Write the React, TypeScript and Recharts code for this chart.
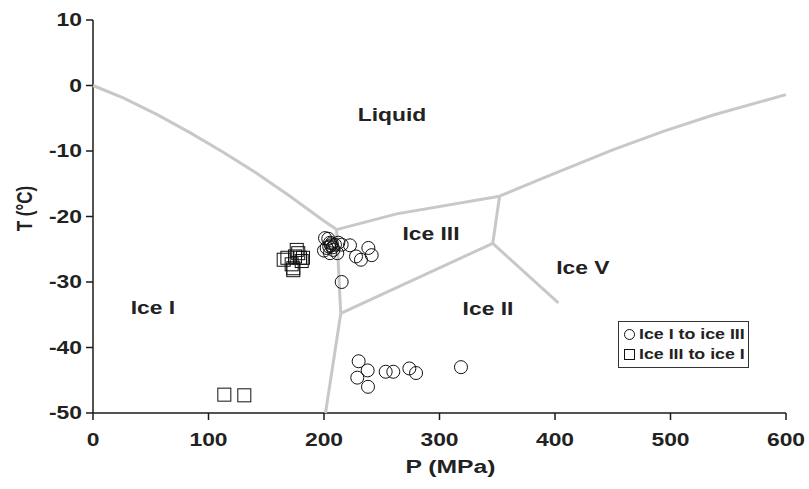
import React from 'react';
import { ScatterChart, Scatter, XAxis, YAxis, Legend } from 'recharts';

const FONT = '"Liberation Sans", Arial, Helvetica, sans-serif';
const STRETCH = 1.27;

const xTicks = [0, 100, 200, 300, 400, 500, 600];
const yTicks = [-50, -40, -30, -20, -10, 0, 10];

// Experimental points: Ice I -> Ice III (circles)
const iceIToIceIII = [
  { x: 200.9, y: -23.3 }, { x: 203.7, y: -23.4 }, { x: 205.2, y: -24.0 }, { x: 206.7, y: -24.1 },
  { x: 209.5, y: -24.3 }, { x: 212.4, y: -24.0 }, { x: 215.3, y: -24.3 }, { x: 202.3, y: -24.8 },
  { x: 200.0, y: -25.2 }, { x: 205.2, y: -25.6 }, { x: 208.1, y: -25.1 }, { x: 211.5, y: -25.6 },
  { x: 206.0, y: -24.4 }, { x: 207.5, y: -24.7 }, { x: 204.5, y: -24.6 },
  { x: 222.5, y: -24.4 }, { x: 227.7, y: -26.1 }, { x: 238.4, y: -24.8 }, { x: 241.3, y: -25.9 },
  { x: 232.0, y: -26.6 }, { x: 215.3, y: -30.0 },
  { x: 230.0, y: -42.1 }, { x: 237.8, y: -43.5 }, { x: 228.8, y: -44.6 }, { x: 238.1, y: -46.0 },
  { x: 253.4, y: -43.7 }, { x: 260.0, y: -43.7 }, { x: 273.9, y: -43.2 }, { x: 279.7, y: -43.9 },
  { x: 318.6, y: -43.0 },
];

// Experimental points: Ice III -> Ice I (squares)
const iceIIIToIceI = [
  { x: 165.1, y: -26.6 }, { x: 168.3, y: -26.3 }, { x: 176.4, y: -25.1 }, { x: 177.7, y: -25.6 },
  { x: 179.2, y: -26.3 }, { x: 172.0, y: -27.3 }, { x: 173.4, y: -27.9 }, { x: 174.9, y: -26.1 },
  { x: 180.7, y: -26.8 }, { x: 181.8, y: -26.3 }, { x: 173.4, y: -28.2 },
  { x: 113.7, y: -47.2 }, { x: 131.0, y: -47.3 },
];

// Phase boundaries
const meltIceI = [
  { x: 0, y: 0 }, { x: 26.2, y: -1.9 }, { x: 55.2, y: -4.4 }, { x: 84.0, y: -7.2 },
  { x: 112.8, y: -10.2 }, { x: 141.7, y: -13.4 }, { x: 170.6, y: -16.9 }, { x: 199.4, y: -20.6 },
  { x: 210.9, y: -22.0 },
];
const boundaryIceI_IceIII = [{ x: 210.9, y: -22.0 }, { x: 214.5, y: -34.8 }];
const meltIceIII = [{ x: 210.9, y: -22.0 }, { x: 262.9, y: -19.6 }, { x: 352.0, y: -16.9 }];
const meltIceV = [
  { x: 352.0, y: -16.9 }, { x: 392.8, y: -13.9 }, { x: 450.5, y: -9.8 }, { x: 493.8, y: -7.0 },
  { x: 537.0, y: -4.5 }, { x: 600.0, y: -1.4 },
];
const boundaryIceIII_IceV = [{ x: 352.0, y: -16.9 }, { x: 346.1, y: -24.1 }];
const boundaryIceII_IceIII = [{ x: 214.5, y: -34.8 }, { x: 346.1, y: -24.1 }];
const boundaryIceII_IceV = [{ x: 346.1, y: -24.1 }, { x: 402.9, y: -33.2 }];
const boundaryIceI_IceII = [{ x: 214.5, y: -34.8 }, { x: 201.3, y: -50.0 }];

const boundaries = [
  meltIceI, boundaryIceI_IceIII, meltIceIII, meltIceV,
  boundaryIceIII_IceV, boundaryIceII_IceIII, boundaryIceII_IceV, boundaryIceI_IceII,
];

// Region labels
const regionLabels = [
  { x: 258.9, y: -4.5, name: 'Liquid' },
  { x: 292.6, y: -22.6, name: 'Ice III' },
  { x: 424.2, y: -27.8, name: 'Ice V' },
  { x: 342.0, y: -34.05, name: 'Ice II' },
  { x: 51.9, y: -33.9, name: 'Ice I' },
];

// Horizontal (screen-x) stretch about (x, y), optionally after a rotation
const stretch = (x: number, y: number, k: number, rotate?: number) =>
  `translate(${x} ${y}) scale(${k} 1)${rotate ? ` rotate(${rotate})` : ''} translate(${-x} ${-y})`;

const SText = (p: any) => {
  const { x, y, size = 18, anchor = 'middle', dy, rotate, k = STRETCH, children } = p;
  return (
    <text
      x={x}
      y={y}
      dy={dy}
      textAnchor={anchor}
      transform={stretch(x, y, k, rotate)}
      fontFamily={FONT}
      fontWeight="bold"
      fontSize={size}
      fill="#222"
    >
      {children}
    </text>
  );
};

const CircleShape = (props: any) => (
  <circle cx={props.cx} cy={props.cy} r={6.5} fill="none" stroke="#111" strokeWidth={1} />
);
const SquareShape = (props: any) => (
  <rect x={props.cx - 6.5} y={props.cy - 6.5} width={13} height={13} fill="none" stroke="#111" strokeWidth={1} />
);
const NoShape = () => <g />;
const LabelShape = (props: any) => (
  <SText x={props.cx} y={props.cy} dy="0.35em" size={18}>
    {props.payload.name}
  </SText>
);

const XTick = (p: any) => (
  <SText x={p.x} y={p.y} dy="0.71em" anchor="middle" size={18}>
    {p.payload.value}
  </SText>
);
const YTick = (p: any) => (
  <SText x={p.x} y={p.y} dy="0.355em" anchor="end" size={18}>
    {p.payload.value}
  </SText>
);

const renderLegend = (props: any) => {
  const items = (props.payload || []).filter((p: any) => p.type !== 'none');
  return (
    <div
      style={{
        border: '1.5px solid #333',
        background: '#fff',
        boxSizing: 'border-box',
        width: 131,
        height: 47,
        padding: '2px 0 0 4px',
        fontFamily: FONT,
        fontWeight: 'bold',
        fontSize: 14,
        color: '#222',
        lineHeight: '20px',
      }}
    >
      {items.map((it: any, i: number) => (
        <div key={i} style={{ display: 'flex', alignItems: 'center', whiteSpace: 'nowrap' }}>
          <svg width={13} height={13} style={{ marginRight: 3, flex: 'none' }}>
            {i === 0 ? (
              <circle cx={6.5} cy={6.5} r={5} fill="none" stroke="#111" strokeWidth={1} />
            ) : (
              <rect x={1.5} y={1.5} width={10} height={10} fill="none" stroke="#111" strokeWidth={1} />
            )}
          </svg>
          <span style={{ display: 'inline-block', transform: `scaleX(${STRETCH})`, transformOrigin: 'left center' }}>
            {it.value}
          </span>
        </div>
      ))}
    </div>
  );
};

export default function App() {
  return (
    <div style={{ position: 'absolute', left: 0, top: 0, background: '#fff' }}>
      <ScatterChart width={809} height={489} margin={{ top: 20, right: 23, bottom: 0, left: 0 }}>
        <XAxis
          type="number"
          dataKey="x"
          domain={[0, 600]}
          ticks={xTicks}
          height={76}
          tickSize={7}
          tickMargin={13}
          tick={XTick}
          axisLine={{ stroke: '#1a1a1a', strokeWidth: 1.5 }}
          tickLine={{ stroke: '#1a1a1a', strokeWidth: 1.5 }}
          label={{
            value: 'P (MPa)',
            content: (p: any) => (
              <SText x={p.viewBox.x + p.viewBox.width / 2 + 11} y={p.viewBox.y + 53} dy="0.35em" size={19} k={1.3}>
                P (MPa)
              </SText>
            ),
          }}
        />
        <YAxis
          type="number"
          dataKey="y"
          domain={[-50, 10]}
          ticks={yTicks}
          width={93}
          tickSize={7}
          tickMargin={4}
          tick={YTick}
          axisLine={{ stroke: '#1a1a1a', strokeWidth: 1.5 }}
          tickLine={{ stroke: '#1a1a1a', strokeWidth: 1.5 }}
          label={{
            value: 'T (°C)',
            content: (p: any) => {
              const cx = p.viewBox.x + 24;
              const cy = p.viewBox.y + p.viewBox.height / 2 - 8;
              return (
                <SText x={cx} y={cy} dy="0.35em" size={17} k={1.27} rotate={-90}>
                  T (°C)
                </SText>
              );
            },
          }}
        />
        {boundaries.map((b, i) => (
          <Scatter
            key={`b${i}`}
            data={b}
            line={{ stroke: '#c8c8c8', strokeWidth: 3 }}
            lineType="joint"
            shape={NoShape}
            legendType="none"
            isAnimationActive={false}
          />
        ))}
        <Scatter
          data={regionLabels}
          shape={LabelShape}
          legendType="none"
          isAnimationActive={false}
        />
        <Scatter
          name="Ice I to ice III"
          data={iceIToIceIII}
          shape={CircleShape}
          legendType="circle"
          isAnimationActive={false}
        />
        <Scatter
          name="Ice III to ice I"
          data={iceIIIToIceI}
          shape={SquareShape}
          legendType="square"
          isAnimationActive={false}
        />
        <Legend
          layout="vertical"
          align="center"
          verticalAlign="middle"
          content={renderLegend}
          wrapperStyle={{ left: 618, top: 321, width: 131, height: 47 }}
        />
      </ScatterChart>
    </div>
  );
}
